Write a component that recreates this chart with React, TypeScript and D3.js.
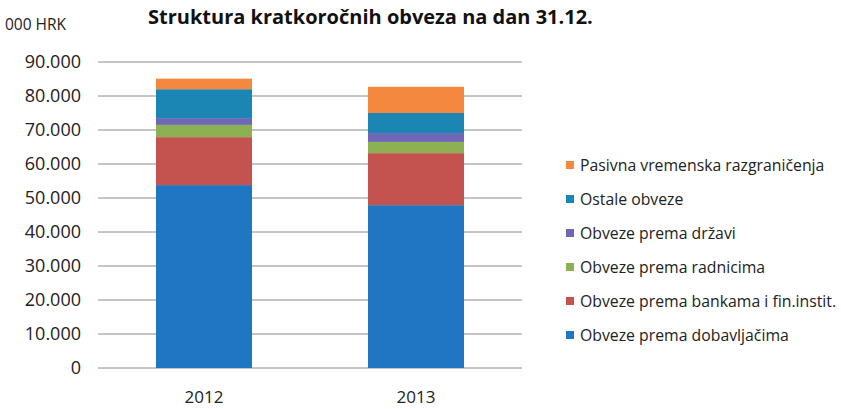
import * as d3 from "d3";
import React from "react";

// values in 000 HRK
const years = ["2012", "2013"];
const seriesNames = [
  "Obveze prema dobavljačima",
  "Obveze prema bankama i fin.instit.",
  "Obveze prema radnicima",
  "Obveze prema državi",
  "Ostale obveze",
  "Pasivna vremenska razgraničenja",
];
const dobavljaci = [53800, 47900];
const banke = [14100, 15300];
const radnici = [3600, 3300];
const drzava = [2000, 2600];
const ostale = [8500, 5900];
const razgranicenja = [3100, 7700];
const yTicks = [0, 10000, 20000, 30000, 40000, 50000, 60000, 70000, 80000, 90000];

const colours = ["#1f77c4", "#c4524f", "#8db152", "#6e67b5", "#1b86b3", "#f5883f"];

export default function App() {
  const ref = React.useRef<SVGSVGElement>(null);

  React.useEffect(() => {
    const svg = d3.select(ref.current);
    svg.selectAll("*").remove();

    const left = 98;
    const right = 522;
    const top = 62;
    const bottom = 368;
    const font = "'Open Sans', sans-serif";

    const rows = years.map((yr, i) => ({
      year: yr,
      [seriesNames[0]]: dobavljaci[i],
      [seriesNames[1]]: banke[i],
      [seriesNames[2]]: radnici[i],
      [seriesNames[3]]: drzava[i],
      [seriesNames[4]]: ostale[i],
      [seriesNames[5]]: razgranicenja[i],
    }));

    const x = d3
      .scaleBand()
      .domain(years)
      .range([left, right])
      .paddingInner(0.547)
      .paddingOuter(0.2735);
    const y = d3.scaleLinear().domain([0, 90000]).range([bottom, top]);

    // gridlines
    svg
      .append("g")
      .selectAll("line")
      .data(yTicks)
      .enter()
      .append("line")
      .attr("x1", left)
      .attr("x2", right)
      .attr("y1", (d) => y(d))
      .attr("y2", (d) => y(d))
      .attr("stroke", "#8a8a8a")
      .attr("stroke-width", 1);

    // y tick labels
    svg
      .append("g")
      .selectAll("text")
      .data(yTicks)
      .enter()
      .append("text")
      .attr("x", 81)
      .attr("y", (d) => y(d))
      .attr("dy", "0.35em")
      .attr("text-anchor", "end")
      .style("font-family", font)
      .style("font-size", "18px")
      .attr("fill", "#222")
      .text((d) => d3.format(",")(d).replace(/,/g, "."));

    // stacked bars
    const stack = d3.stack<any>().keys(seriesNames)(rows as any);
    stack.forEach((layer, li) => {
      svg
        .append("g")
        .attr("fill", colours[li])
        .selectAll("rect")
        .data(layer)
        .enter()
        .append("rect")
        .attr("x", (d: any) => x(d.data.year)!)
        .attr("width", x.bandwidth())
        .attr("y", (d) => y(d[1]))
        .attr("height", (d) => y(d[0]) - y(d[1]));
    });

    // x labels
    svg
      .append("g")
      .selectAll("text")
      .data(years)
      .enter()
      .append("text")
      .attr("x", (d) => x(d)! + x.bandwidth() / 2)
      .attr("y", 397)
      .attr("dy", "0.35em")
      .attr("text-anchor", "middle")
      .style("font-family", font)
      .style("font-size", "17px")
      .attr("fill", "#222")
      .text((d) => d);

    // legend, top item is last series
    const legendNames = seriesNames.slice().reverse();
    const legendColours = colours.slice().reverse();
    const lg = svg.append("g");
    lg.selectAll("rect")
      .data(legendNames)
      .enter()
      .append("rect")
      .attr("x", 566)
      .attr("y", (d, i) => 161 + i * 34)
      .attr("width", 8)
      .attr("height", 8)
      .attr("fill", (d, i) => legendColours[i]);
    lg.selectAll("text")
      .data(legendNames)
      .enter()
      .append("text")
      .attr("x", 580)
      .attr("y", (d, i) => 165 + i * 34)
      .attr("dy", "0.35em")
      .style("font-family", font)
      .style("font-size", "15.8px")
      .attr("fill", "#222")
      .text((d) => d);

    // title
    svg
      .append("text")
      .attr("x", 148)
      .attr("y", 17)
      .attr("dy", "0.35em")
      .style("font-family", font)
      .style("font-size", "20px")
      .style("font-weight", "bold")
      .attr("fill", "#111")
      .text("Struktura kratkoročnih obveza na dan 31.12.");

    // unit label
    svg
      .append("text")
      .attr("x", 5)
      .attr("y", 25)
      .attr("dy", "0.35em")
      .style("font-family", font)
      .style("font-size", "15.5px")
      .attr("fill", "#222")
      .text("000 HRK");
  }, []);

  return (
    <svg
      ref={ref}
      width={841}
      height={409}
      style={{ position: "absolute", left: 0, top: 0, background: "#fff" }}
    />
  );
}
